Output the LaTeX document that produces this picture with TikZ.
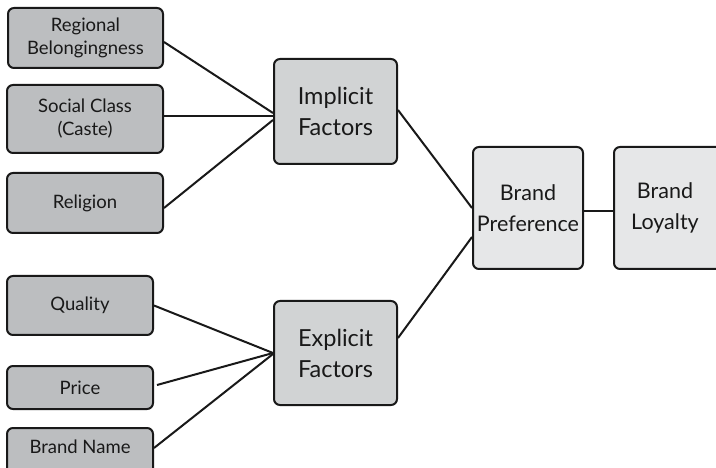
\documentclass[tikz,border=0pt]{standalone}
\usepackage{fontspec}
\setmainfont{Lato}
\definecolor{leafc}{HTML}{BCBEC0}
\definecolor{midc}{HTML}{D1D3D4}
\definecolor{topc}{HTML}{E6E7E8}
\begin{document}
\begin{tikzpicture}[x=1pt,y=-1pt,
  box/.style={draw=black!90,line width=2pt,rounded corners=6pt,align=center,inner sep=0pt,text=black!90},
  leaf/.style={box,fill=leafc,font=\fontsize{18.5}{23}\selectfont},
  mid/.style={box,fill=midc,font=\fontsize{23.5}{31}\selectfont},
  top/.style={box,fill=topc,font=\fontsize{21.5}{31}\selectfont},
  link/.style={line width=2pt,draw=black!90}]
\useasboundingbox (0,0) rectangle (716,468);
\clip (0,0) rectangle (716,468);
\node[leaf,minimum width=155pt,minimum height=60pt] (rb) at (85.5,38) {Regional\\Belongingness};
\node[leaf,minimum width=156pt,minimum height=68pt] (sc) at (85,119) {Social Class\\(Caste)};
\node[leaf,minimum width=156pt,minimum height=60pt] (rel) at (85,203) {Religion};
\node[leaf,minimum width=146pt,minimum height=59pt] (qual) at (80,305.5) {Quality};
\node[leaf,minimum width=146pt,minimum height=43pt] (price) at (80,387.5) {Price};
\node[leaf,minimum width=146pt,minimum height=48pt,anchor=north] (bn) at (80,427) {};
\node (bnt) at (80,447) {\fontsize{18.5}{23}\selectfont\color{black!90}Brand Name};
\node[mid,minimum width=123pt,minimum height=105pt] (imp) at (335.5,111.5) {Implicit\\Factors};
\node[mid,minimum width=123pt,minimum height=104pt] (exp) at (335.5,353) {Explicit\\Factors};
\node[top,minimum width=110pt,minimum height=122pt] (bp) at (528,208) {Brand\\Preference};
\node[top,minimum width=112pt,minimum height=122pt,anchor=west] (bl) at (613,208) {};
\node (blt) at (665,208) {\fontsize{21.5}{31}\selectfont\color{black!90}\begin{tabular}{@{}c@{}}Brand\\Loyalty\end{tabular}};
\draw[link] ([yshift=-4pt]rb.east) -- ([yshift=-1.5pt]imp.west);
\draw[link] ([yshift=3pt]sc.east) -- ([yshift=-4.5pt]imp.west);
\draw[link] ([yshift=-5pt]rel.east) -- ([yshift=-8.5pt]imp.west);
\draw[link] (qual.east) -- (exp.west);
\draw[link] ([xshift=3pt,yshift=2.5pt]price.east) -- (exp.west);
\draw[link] ([yshift=4pt]bn.east) -- ([yshift=-1pt]exp.west);
\draw[link] ([yshift=1.5pt]imp.east) -- (bp.west);
\draw[link] ([yshift=15pt]exp.east) -- ([yshift=-29pt]bp.west);
\draw[link] ([yshift=-3pt]bp.east) -- ([yshift=-3pt]bl.west);
\end{tikzpicture}
\end{document}
